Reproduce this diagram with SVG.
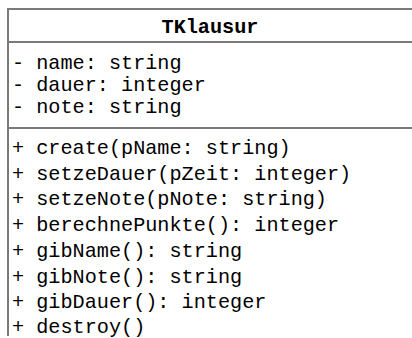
<svg xmlns="http://www.w3.org/2000/svg" width="412" height="338" viewBox="0 0 412 338">
  <style>
    .frame { stroke: #7a7a7a; stroke-width: 2; fill: none; }
    .txt { font-family: "Liberation Mono", "DejaVu Sans Mono", monospace; font-size: 20.2px; fill: #000; }
    .title { font-weight: bold; text-anchor: middle; }
  </style>
  <rect width="412" height="338" fill="#ffffff"/>
  <g id="TKlausur">
    <!-- class box frame (open to the right and bottom) -->
    <path class="frame" d="M8,336 V9 H412"/>
    <line class="frame" x1="8" y1="42" x2="412" y2="42"/>
    <line class="frame" x1="8" y1="128" x2="412" y2="128"/>
    <text class="txt title" x="210" y="33">TKlausur</text>
    <g id="attributes">
      <text class="txt" x="12" y="69">- name: string</text>
      <text class="txt" x="12" y="91">- dauer: integer</text>
      <text class="txt" x="12" y="113">- note: string</text>
    </g>
    <g id="methods">
      <text class="txt" x="12" y="154">+ create(pName: string)</text>
      <text class="txt" x="12" y="180">+ setzeDauer(pZeit: integer)</text>
      <text class="txt" x="12" y="205">+ setzeNote(pNote: string)</text>
      <text class="txt" x="12" y="231">+ berechnePunkte(): integer</text>
      <text class="txt" x="12" y="257">+ gibName(): string</text>
      <text class="txt" x="12" y="283">+ gibNote(): string</text>
      <text class="txt" x="12" y="308">+ gibDauer(): integer</text>
      <text class="txt" x="12" y="333">+ destroy()</text>
    </g>
  </g>
  <g id="connectors"/>
</svg>
